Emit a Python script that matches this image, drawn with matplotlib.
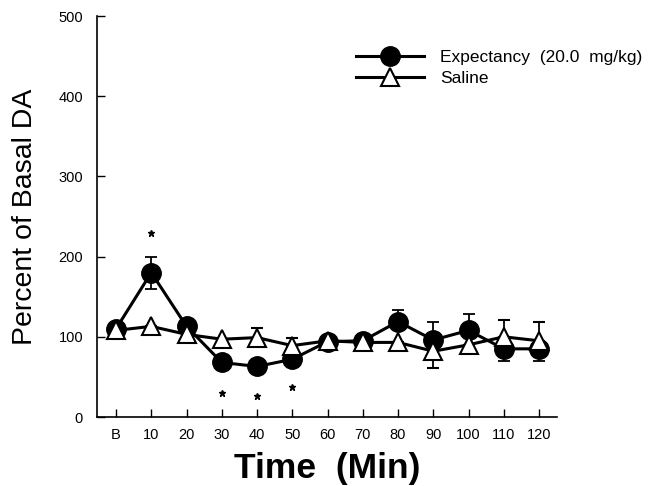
#!/usr/bin/env python3

import numpy as np
import matplotlib
matplotlib.use('Agg')
import matplotlib.pyplot as plt
from matplotlib.lines import Line2D

plt.rcParams['font.family'] = ['Liberation Sans', 'DejaVu Sans']

time_labels = ['B', '10', '20', '30', '40', '50', '60', '70', '80', '90', '100', '110', '120']

# percent of basal DA, mean with one-sided SEM bars
expectancy = [110, 180, 113, 68, 63, 72, 94, 95, 119, 96, 108, 85, 85]
expectancy_err_lo = [0, 20, 0, 0, 0, 0, 0, 0, 0, 0, 0, 15, 15]
expectancy_err_hi = [0, 20, 0, 0, 0, 0, 0, 0, 14, 22, 21, 0, 0]

saline = [108, 113, 103, 97, 99, 89, 95, 93, 93, 82, 90, 100, 95]
saline_err_lo = [0, 0, 0, 0, 0, 0, 0, 0, 0, 21, 0, 0, 0]
saline_err_hi = [0, 0, 0, 0, 12, 9, 0, 0, 0, 0, 0, 21, 24]

# significance markers: (time index, y position)
star_idx = [1, 3, 4, 5]
star_y = [230, 30, 26, 37]

series_labels = ['Expectancy  (20.0  mg/kg)', 'Saline']


def plot_results(output_file):
    x = np.arange(len(time_labels))
    fig = plt.figure(figsize=(6.52, 4.86), dpi=100)
    ax = fig.add_axes([97 / 652, 1 - 417 / 486, (557 - 97) / 652, (417 - 16) / 486])

    exp_style = dict(color='black', lw=2.2, marker='o', ms=14, mfc='black', mec='black')
    sal_style = dict(color='black', lw=2.2, marker='^', ms=13, mfc='white', mec='black', mew=1.5)
    err_style = dict(ecolor='black', elinewidth=1.3, capsize=4, capthick=1.3)

    ax.errorbar(x, expectancy, yerr=[expectancy_err_lo, expectancy_err_hi],
                zorder=3, **exp_style, **err_style)
    ax.errorbar(x, saline, yerr=[saline_err_lo, saline_err_hi],
                zorder=4, **sal_style, **err_style)

    ax.plot(x[star_idx], star_y, linestyle='none', marker='*', ms=4.5, color='black')

    ax.set_xlim(-0.54, 12.51)
    ax.set_ylim(0, 500)
    ax.set_xticks(x)
    ax.set_xticklabels(time_labels)
    ax.set_yticks([0, 100, 200, 300, 400, 500])
    ax.tick_params(direction='in', length=6, width=1, labelsize=10.5, pad=8)
    ax.tick_params(axis='y', pad=10)
    for s in ['top', 'right']:
        ax.spines[s].set_visible(False)
    for s in ['left', 'bottom']:
        ax.spines[s].set_linewidth(1.2)

    ax.set_ylabel('Percent of Basal DA', fontsize=20.5, labelpad=15)
    ax.set_xlabel('Time  (Min)', fontsize=25.5, fontweight='bold', labelpad=7)

    handles = [Line2D([], [], **exp_style), Line2D([], [], **sal_style)]
    ax.legend(handles, series_labels, loc='upper left', bbox_to_anchor=(0.53, 0.955),
              frameon=False, fontsize=12.5, handlelength=3.9, labelspacing=0.35,
              handletextpad=0.9)

    fig.savefig(output_file, dpi=100)


if __name__ == '__main__':
    plot_results('out.png')
